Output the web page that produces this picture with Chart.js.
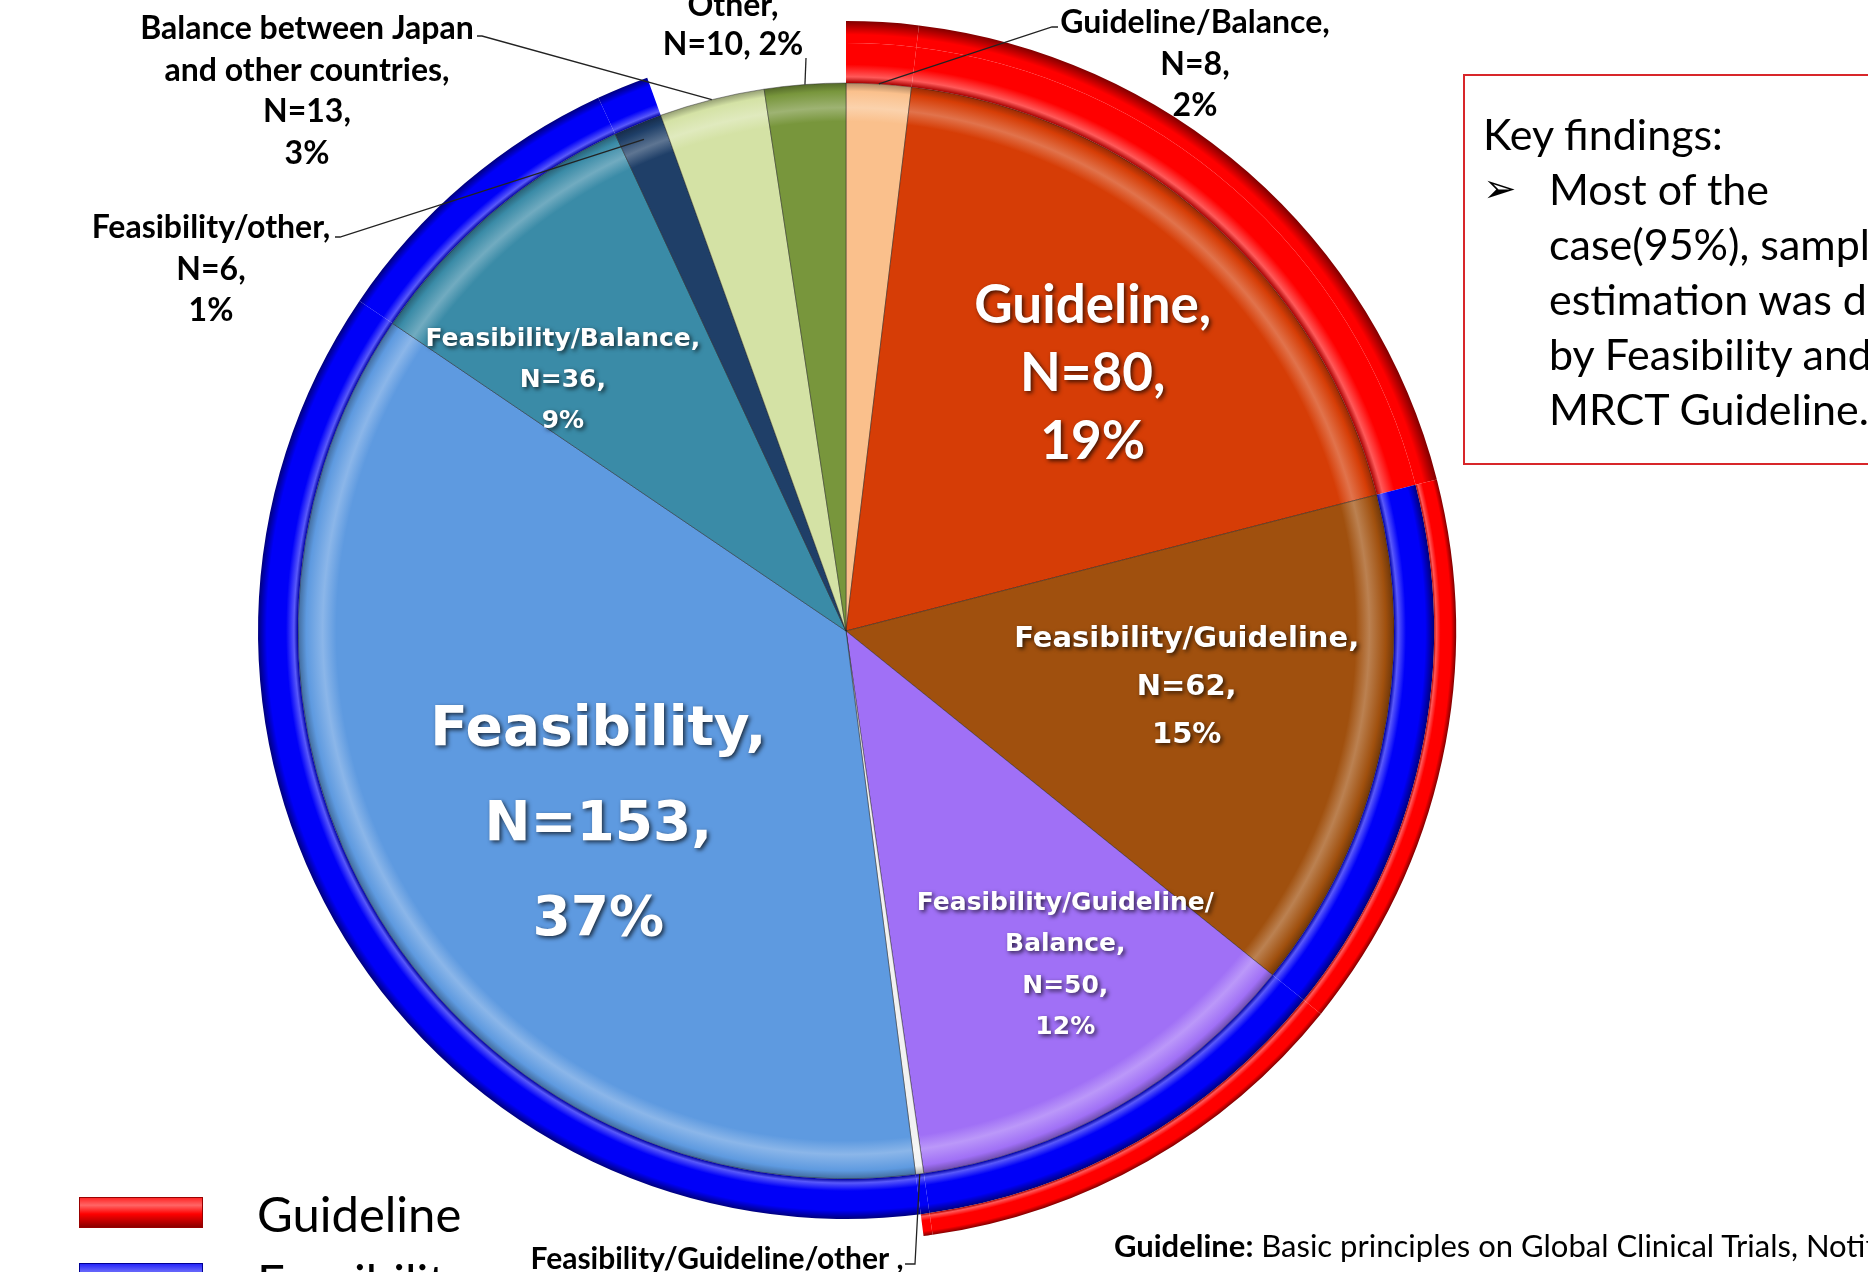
<!DOCTYPE html>
<html>
<head>
<meta charset="utf-8">
<script src="https://cdn.jsdelivr.net/npm/chart.js@4.4.1/dist/chart.umd.min.js"></script>
<style>
  html, body { margin: 0; padding: 0; background: #fff; }
  body { width: 1868px; height: 1272px; position: relative; overflow: hidden; font-family: Lato, sans-serif; color: #000; }
  #pie { position: absolute; left: 0; top: 0; }
  #findings {
    position: absolute; left: 1463px; top: 74px; width: 520px; height: 391px;
    box-sizing: border-box; border: 2px solid #d8262a;
    padding: 30px 0 0 18px; font-size: 43px; line-height: 55px; white-space: nowrap;
  }
  #findings .item { position: relative; padding-left: 66px; }
  #findings .arrow { position: absolute; left: 0; top: 0; font-family: "DejaVu Sans", sans-serif; font-size: 40px; }
  .swatch { position: absolute; left: 79px; width: 124px; height: 31px; box-sizing: border-box; }
  .legend-text { position: absolute; left: 257px; font-size: 49px; line-height: 60px; }
  #footer { position: absolute; left: 1114px; top: 1227px; font-size: 31px; line-height: 36px; white-space: nowrap; }
</style>
</head>
<body>
<canvas id="pie" width="1868" height="1272"></canvas>

<div id="findings">
  <div>Key findings:</div>
  <div class="item"><span class="arrow">&#10146;</span>Most of the<br>case(95%), sample size<br>estimation was done<br>by Feasibility and<br>MRCT Guideline.</div>
</div>

<div class="swatch" id="sw-guideline" style="top:1197px"></div>
<div class="legend-text" style="top:1183px">Guideline</div>
<div class="swatch" id="sw-feasibility" style="top:1263px"></div>
<div class="legend-text" style="top:1251px">Feasibility</div>

<div id="footer"><b>Guideline:</b> Basic principles on Global Clinical Trials, Notification</div>

<script>
// slices, clockwise from 12 o'clock
const categories = ['Guideline/Balance', 'Guideline', 'Feasibility/Guideline', 'Feasibility/Guideline/Balance',
  'Feasibility/Guideline/other', 'Feasibility', 'Feasibility/Balance', 'Feasibility/other',
  'Balance between Japan and other countries', 'Other'];
const counts = [8, 80, 62, 50, 1, 153, 36, 6, 13, 10];
const percents = [2, 19, 15, 12, 0, 37, 9, 1, 3, 2];

// which reason groups each slice belongs to (outer rings)
const ringLabels = ['Guideline', 'Feasibility'];
const inGuideline = [1, 1, 1, 1, 1, 0, 0, 0, 0, 0];
const inFeasibility = [0, 0, 1, 1, 1, 1, 1, 1, 0, 0];

const sliceColors = ['#FAC08C', '#D63D06', '#A0500E', '#A070F6', '#F2F2F2', '#5E9AE0', '#3A8BA7', '#1F3F68', '#D4E2A5', '#78963C'];
const RED = '#FF0000';
const BLUE = '#0000F8';

// ring thickness weights (pie, feasibility ring, guideline ring)
const pieW = 548, midW = 40, outW = 22;

function rgb(hex) {
  const n = parseInt(hex.slice(1), 16);
  return [(n >> 16) & 255, (n >> 8) & 255, n & 255];
}
function shade(hex, amt) {
  const c = rgb(hex).map(v => amt >= 0 ? v + (255 - v) * amt : v * (1 + amt));
  return `rgb(${c.map(Math.round).join(',')})`;
}

function geom(chart) {
  const a = chart.chartArea;
  const R = Math.min(a.right - a.left, a.bottom - a.top) / 2;
  const tot = pieW + midW + outW;
  return {
    cx: (a.left + a.right) / 2, cy: (a.top + a.bottom) / 2, R,
    pieR: R * pieW / tot, midR: R * (pieW + midW) / tot
  };
}

function bevelRing(chart, color, r0, r1) {
  const g0 = geom(chart);
  const g = chart.ctx.createRadialGradient(g0.cx, g0.cy, r0, g0.cx, g0.cy, r1);
  g.addColorStop(0, shade(color, -0.35));
  g.addColorStop(0.1, shade(color, 0.35));
  g.addColorStop(0.3, color);
  g.addColorStop(0.78, color);
  g.addColorStop(1, shade(color, -0.5));
  return g;
}

function ringFill(c, ring) {
  const chart = c.chart;
  if (!chart.chartArea) return 'rgba(0,0,0,0)';
  const i = c.dataIndex;
  const g = inGuideline[i], f = inFeasibility[i];
  let color = null;
  if (ring === 0) color = g ? RED : null;
  else color = f ? BLUE : (g ? RED : null);
  if (!color) return 'rgba(0,0,0,0)';
  const k = geom(chart);
  if (g && !f) return bevelRing(chart, color, k.pieR, k.R);
  if (ring === 0) return bevelRing(chart, color, k.midR, k.R);
  return bevelRing(chart, color, k.pieR, k.midR);
}

function sliceFill(c) {
  const chart = c.chart;
  const color = sliceColors[c.dataIndex];
  if (!chart.chartArea) return color;
  const k = geom(chart);
  const g = chart.ctx.createRadialGradient(k.cx, k.cy, 0, k.cx, k.cy, k.pieR);
  g.addColorStop(0, color);
  g.addColorStop(0.93, color);
  g.addColorStop(0.955, shade(color, 0.28));
  g.addColorStop(0.985, color);
  g.addColorStop(1, shade(color, -0.3));
  return g;
}

// label layout: inside labels sit on the slice (nudge in degrees, radius fraction)
const insideLabels = [
  { i: 1, font: 'bold 53px Lato', lh: 68, nudge: 2.6, frac: 0.65 },
  { i: 2, font: 'bold 29px "DejaVu Sans"', lh: 48, nudge: -2.9, frac: 0.63 },
  { i: 3, font: 'bold 25px "DejaVu Sans"', lh: 41.5, nudge: -3.6, frac: 0.73, breakAt: 'Guideline/' },
  { i: 5, font: 'bold 55px "DejaVu Sans"', lh: 95, nudge: -6.6, frac: 0.575 },
  { i: 6, font: 'bold 25px "DejaVu Sans"', lh: 41, nudge: -8.1, frac: 0.69 }
];
// outside labels with leader lines
const outsideLabels = [
  { i: 0, x: 1195, y: 23, lh: 41.5, frac: 1.0, path: [[1052, 27], [1058, 27]] },
  { i: 9, x: 733, y: 6, lh: 39, frac: 1.0, join: true, path: [[806, 58]] },
  { i: 8, x: 307, y: 29, lh: 41.5, frac: 1.0, breakAt: 'Japan ', path: [[482, 36], [477, 36]] },
  { i: 7, x: 211, y: 228, lh: 41.5, frac: 0.97, path: [[340, 237], [335, 237]] },
  { i: 4, x: 717, y: 1259, lh: 41.5, frac: 1.0, spaceComma: true, size: 30, path: [[915, 1264], [905, 1264]] }
];

function labelLines(spec) {
  const i = spec.i;
  let name = categories[i];
  let names = [name];
  if (spec.breakAt) {
    const p = name.indexOf(spec.breakAt) + spec.breakAt.length;
    names = [name.slice(0, p).trim(), name.slice(p).trim()];
  }
  names[names.length - 1] += spec.spaceComma ? ' ,' : ',';
  const n = 'N=' + counts[i] + ',';
  const pct = percents[i] + '%';
  return spec.join ? names.concat([n + ' ' + pct]) : names.concat([n, pct]);
}

function arcPoint(arc, frac, nudge) {
  const a = (arc.startAngle + arc.endAngle) / 2 + (nudge || 0) * Math.PI / 180;
  const r = arc.outerRadius * frac;
  return [arc.x + Math.cos(a) * r, arc.y + Math.sin(a) * r];
}

const sliceLabels = {
  id: 'sliceLabels',
  afterDatasetsDraw(chart) {
    const ctx = chart.ctx;
    const arcs = chart.getDatasetMeta(2).data;
    ctx.save();
    ctx.textAlign = 'center';
    ctx.textBaseline = 'middle';

    insideLabels.forEach(s => {
      const [x, y] = arcPoint(arcs[s.i], s.frac, s.nudge);
      const lines = labelLines(s);
      ctx.font = s.font;
      ctx.fillStyle = '#fff';
      ctx.shadowColor = 'rgba(0,0,0,0.7)';
      ctx.shadowBlur = 4;
      ctx.shadowOffsetX = 2;
      ctx.shadowOffsetY = 2;
      const y0 = y - (lines.length - 1) * s.lh / 2;
      lines.forEach((t, k) => ctx.fillText(t, x, y0 + k * s.lh));
    });

    ctx.shadowColor = 'transparent';
    ctx.shadowBlur = 0;
    ctx.shadowOffsetX = 0;
    ctx.shadowOffsetY = 0;

    outsideLabels.forEach(s => {
      const start = arcPoint(arcs[s.i], s.frac, 0);
      ctx.strokeStyle = '#222';
      ctx.lineWidth = 1.3;
      ctx.beginPath();
      ctx.moveTo(start[0], start[1]);
      s.path.forEach(p => ctx.lineTo(p[0], p[1]));
      ctx.stroke();

      ctx.font = `bold ${s.size || 32}px Lato`;
      ctx.fillStyle = '#000';
      labelLines(s).forEach((t, k) => ctx.fillText(t, s.x, s.y + k * s.lh));
    });
    ctx.restore();
  }
};

new Chart(document.getElementById('pie').getContext('2d'), {
  type: 'pie',
  data: {
    labels: categories,
    datasets: [
      { label: ringLabels[0], data: counts, weight: outW, backgroundColor: c => ringFill(c, 0), borderWidth: 0, hoverBorderWidth: 0 },
      { label: ringLabels[1], data: counts, weight: midW, backgroundColor: c => ringFill(c, 1), borderWidth: 0, hoverBorderWidth: 0 },
      { label: 'Reasons', data: counts, weight: pieW, backgroundColor: sliceFill, borderColor: 'rgba(30,30,30,0.45)', borderWidth: 1, hoverBorderWidth: 1 }
    ]
  },
  options: {
    responsive: false,
    animation: false,
    events: [],
    hoverOffset: 0,
    layout: { padding: { left: 236, top: 21, right: 412, bottom: 31 } },
    plugins: { legend: { display: false }, tooltip: { enabled: false } }
  },
  plugins: [sliceLabels]
});

// legend swatches for the two rings
function swatch(id, color) {
  const el = document.getElementById(id);
  el.style.background = `linear-gradient(${shade(color, 0.15)} 0%, ${shade(color, 0.4)} 25%, ${color} 55%, ${shade(color, -0.45)} 100%)`;
  el.style.border = `1px solid ${shade(color, -0.4)}`;
}
swatch('sw-guideline', RED);
swatch('sw-feasibility', BLUE);
</script>
</body>
</html>
